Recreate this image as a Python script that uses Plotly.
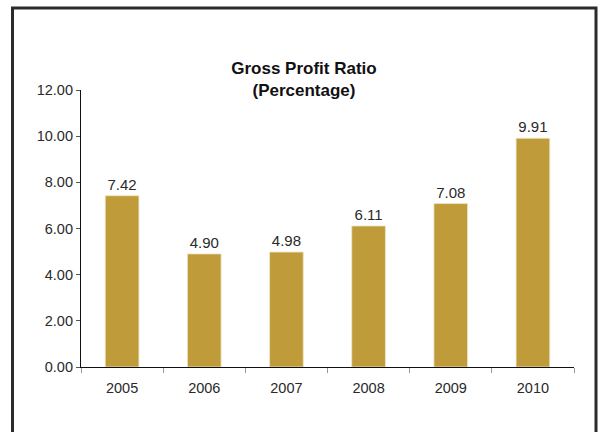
import plotly.graph_objects as go

years = ["2005", "2006", "2007", "2008", "2009", "2010"]
ratios = [7.42, 4.90, 4.98, 6.11, 7.08, 9.91]
y_ticks = [0, 2, 4, 6, 8, 10, 12]
y_tick_labels = ["0.00", "2.00", "4.00", "6.00", "8.00", "10.00", "12.00"]

W, H = 598, 432
L, R, T, B = 81, 24, 90, 65
pw, ph = W - L - R, H - T - B

def px_x(x):
    return (x - L) / pw

def px_y(y):
    return (H - B - y) / ph

FONT = "Liberation Sans, Arial, sans-serif"
TEXT = "#2a2a2a"

fig = go.Figure(
    go.Bar(
        x=years,
        y=ratios,
        width=0.41,
        marker=dict(color="#BF9B3A", line=dict(color="#EFE6C8", width=0.8)),
        text=[f"{v:.2f}" for v in ratios],
        textposition="outside",
        textfont=dict(family=FONT, size=15, color=TEXT),
        cliponaxis=False,
    )
)

fig.update_layout(
    width=W,
    height=H,
    margin=dict(l=L, r=R, t=T, b=B),
    paper_bgcolor="white",
    plot_bgcolor="white",
    showlegend=False,
    font=dict(family=FONT, size=15, color=TEXT),
    title=dict(
        text="<b>Gross Profit Ratio<br>(Percentage)</b>",
        x=304 / W,
        xanchor="center",
        xref="container",
        y=1 - 74 / H,
        yanchor="top",
        yref="container",
        font=dict(family=FONT, size=17, color="#111111"),
    ),
    xaxis=dict(
        showline=True,
        linecolor="#111111",
        linewidth=1.2,
        ticks="outside",
        ticklen=5,
        tickcolor="#999999",
        tickson="boundaries",
        ticklabelstandoff=7,
        showgrid=False,
        tickfont=dict(size=14.5, color=TEXT),
        fixedrange=True,
    ),
    yaxis=dict(
        range=[0, 12],
        tickvals=y_ticks,
        ticktext=y_tick_labels,
        showline=True,
        linecolor="#111111",
        linewidth=1.2,
        ticks="outside",
        ticklen=4,
        tickcolor="#555555",
        showgrid=False,
        zeroline=False,
        tickfont=dict(size=14.5, color=TEXT),
        fixedrange=True,
    ),
    shapes=[
        dict(
            type="rect",
            xref="paper",
            yref="paper",
            x0=px_x(12.5),
            x1=px_x(596),
            y0=px_y(445),
            y1=px_y(8),
            line=dict(color="#2b2b2b", width=3),
            fillcolor="rgba(0,0,0,0)",
            layer="above",
        )
    ],
)

fig.write_html("out.html")
